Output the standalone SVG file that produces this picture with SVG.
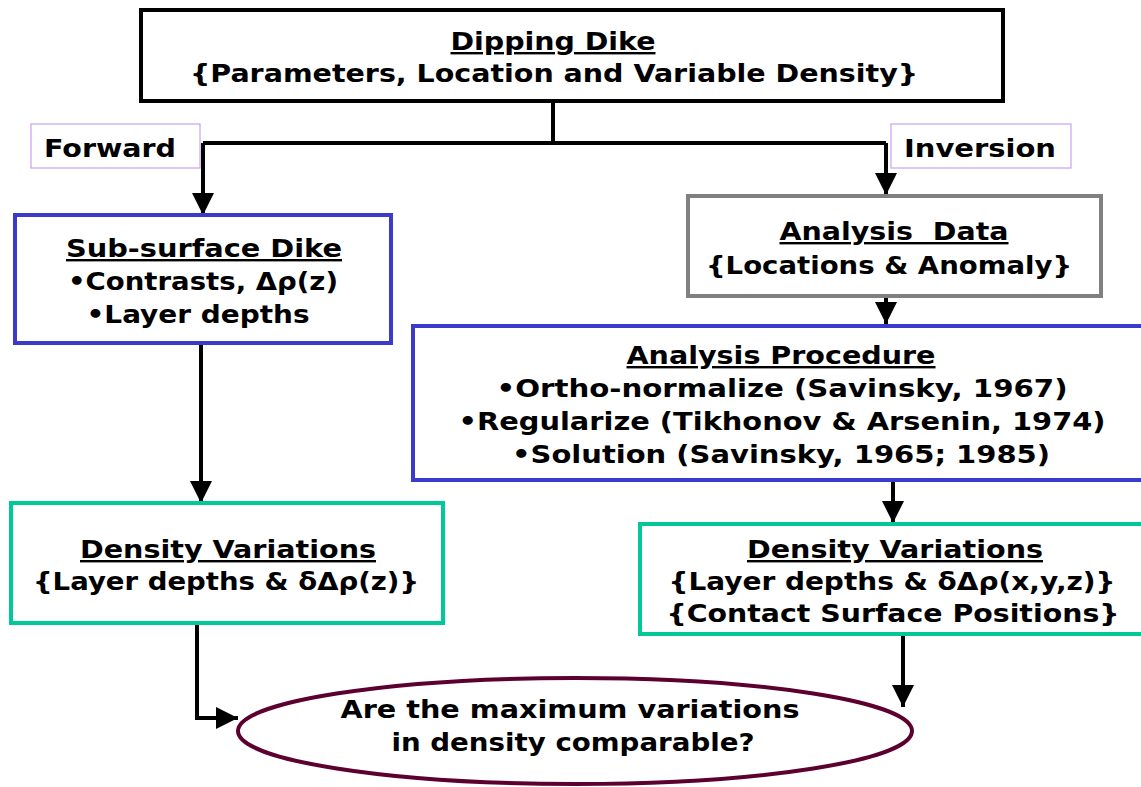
<svg xmlns="http://www.w3.org/2000/svg" width="1141" height="787" viewBox="0 0 1141 787">
<style>
text{font-family:"DejaVu Sans","Verdana",sans-serif;font-weight:bold;font-size:24px;fill:#000;text-anchor:middle}
.u{text-decoration:underline}
.l{text-anchor:start}
.box{fill:#fff;stroke-width:4}
.conn{fill:none;stroke:#000;stroke-width:4}
</style>
<defs>
<marker id="ah" viewBox="0 0 10 10" refX="10" refY="5" markerWidth="5.5" markerHeight="5.5" markerUnits="strokeWidth" orient="auto">
<path d="M0,0 L10,5 L0,10 z" fill="#000"/>
</marker>
</defs>
<rect width="1141" height="787" fill="#fff"/>
<g id="connectors">
<path class="conn" d="M553,101 V143"/>
<path class="conn" d="M203,143 H886"/>
<path class="conn" d="M203,143 V215" marker-end="url(#ah)"/>
<path class="conn" d="M886,143 V195" marker-end="url(#ah)"/>
<path class="conn" d="M886,296 V324" marker-end="url(#ah)"/>
<path class="conn" d="M201,343 V503" marker-end="url(#ah)"/>
<path class="conn" d="M893,480 V523" marker-end="url(#ah)"/>
<path class="conn" d="M903,634 V707" marker-end="url(#ah)"/>
<path class="conn" d="M197,623 V718 H238" marker-end="url(#ah)"/>
</g>
<g id="top">
<rect class="box" x="141" y="10" width="862" height="91" stroke="#000"/>
<text class="u" x="553" y="50" textLength="205" lengthAdjust="spacingAndGlyphs">Dipping Dike</text>
<text x="554" y="82" textLength="728" lengthAdjust="spacingAndGlyphs">{Parameters, Location and Variable Density}</text>
</g>
<g id="forward">
<rect x="31" y="124" width="169" height="44" fill="#fff" stroke="#c8a0f0" stroke-width="1.2"/>
<text class="l" x="44" y="157" textLength="132" lengthAdjust="spacingAndGlyphs">Forward</text>
</g>
<g id="inversion">
<rect x="891" y="124" width="180" height="44" fill="#fff" stroke="#c8a0f0" stroke-width="1.2"/>
<text class="l" x="904" y="157" textLength="152" lengthAdjust="spacingAndGlyphs">Inversion</text>
</g>
<g id="subsurface">
<rect class="box" x="15" y="215" width="376" height="128" stroke="#3a3acb"/>
<text class="u" x="204" y="257" textLength="276" lengthAdjust="spacingAndGlyphs">Sub-surface Dike</text>
<text x="203" y="290" textLength="270" lengthAdjust="spacingAndGlyphs">•Contrasts, Δρ(z)</text>
<text x="198" y="323" textLength="223" lengthAdjust="spacingAndGlyphs">•Layer depths</text>
</g>
<g id="density-left">
<rect class="box" x="11" y="503" width="432" height="120" stroke="#00c896"/>
<text class="u" x="228" y="558" textLength="296" lengthAdjust="spacingAndGlyphs">Density Variations</text>
<text x="226" y="590" textLength="386" lengthAdjust="spacingAndGlyphs">{Layer depths &amp; δΔρ(z)}</text>
</g>
<g id="analysis-data">
<rect class="box" x="688" y="196" width="413" height="100" stroke="#808080"/>
<text class="u" x="894" y="240" textLength="229" lengthAdjust="spacingAndGlyphs" xml:space="preserve">Analysis  Data</text>
<text x="889" y="274" textLength="366" lengthAdjust="spacingAndGlyphs">{Locations &amp; Anomaly}</text>
</g>
<g id="analysis-procedure">
<rect class="box" x="413" y="326" width="735" height="154" stroke="#3a3acb"/>
<text class="u" x="781" y="364" textLength="309" lengthAdjust="spacingAndGlyphs">Analysis Procedure</text>
<text x="782" y="397" textLength="571" lengthAdjust="spacingAndGlyphs">•Ortho-normalize (Savinsky, 1967)</text>
<text x="782" y="430" textLength="647" lengthAdjust="spacingAndGlyphs">•Regularize (Tikhonov &amp; Arsenin, 1974)</text>
<text x="781" y="463" textLength="538" lengthAdjust="spacingAndGlyphs">•Solution (Savinsky, 1965; 1985)</text>
</g>
<g id="density-right">
<rect class="box" x="640" y="524" width="510" height="110" stroke="#00c896"/>
<text class="u" x="895" y="558" textLength="296" lengthAdjust="spacingAndGlyphs">Density Variations</text>
<text x="892" y="590" textLength="447" lengthAdjust="spacingAndGlyphs">{Layer depths &amp; δΔρ(x,y,z)}</text>
<text x="893" y="622" textLength="453" lengthAdjust="spacingAndGlyphs">{Contact Surface Positions}</text>
</g>
<g id="question">
<ellipse cx="575" cy="731" rx="337" ry="53" fill="#fff" stroke="#5c0030" stroke-width="4"/>
<text x="570" y="718" textLength="459" lengthAdjust="spacingAndGlyphs">Are the maximum variations</text>
<text x="573" y="751" textLength="363" lengthAdjust="spacingAndGlyphs">in density comparable?</text>
</g>
</svg>
